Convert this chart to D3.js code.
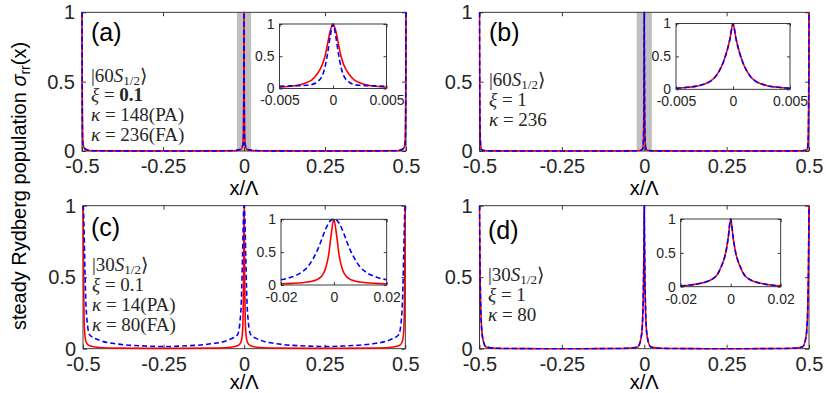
<!DOCTYPE html>
<html>
<head>
<meta charset="utf-8">
<script src="https://cdn.jsdelivr.net/npm/d3@7"></script>
<style>
  body { margin: 0; background: #fff; }
  svg { display: block; }
  .tick text { font-family: "Liberation Sans", Arial, sans-serif; fill: #262626; }
  .note { font-family: "Liberation Serif", "DejaVu Serif", serif; font-size: 19px; fill: #262626; }
</style>
</head>
<body>
<svg width="830" height="393"></svg>
<script>
// x samples for the main panels (one period, peaks at -0.5, 0, 0.5)
const mainX = [-0.5, -0.4995, -0.499, -0.498, -0.497, -0.495, -0.49, -0.48, -0.45, -0.4, -0.3, -0.25, -0.2, -0.1, -0.05, -0.02, -0.01, -0.005, -0.003, -0.002, -0.001, -0.0005,
  0, 0.0005, 0.001, 0.002, 0.003, 0.005, 0.01, 0.02, 0.05, 0.1, 0.2, 0.25, 0.3, 0.4, 0.45, 0.48, 0.49, 0.495, 0.497, 0.498, 0.499, 0.4995, 0.5];

// main panel curves (red = solid, blue = dashed)
const aRed = [1, 0.65, 0.37, 0.13, 0.07, 0.03, 0.01, 0.004, 0.002, 0.001, 0, 0, 0, 0.001, 0.002, 0.004, 0.01, 0.03, 0.07, 0.13, 0.37, 0.65,
  1, 0.65, 0.37, 0.13, 0.07, 0.03, 0.01, 0.004, 0.002, 0.001, 0, 0, 0, 0.001, 0.002, 0.004, 0.01, 0.03, 0.07, 0.13, 0.37, 0.65, 1];
const aBlue = [1, 0.55, 0.2, 0.06, 0.045, 0.035, 0.015, 0.006, 0.002, 0.001, 0, 0, 0, 0.001, 0.002, 0.006, 0.015, 0.035, 0.045, 0.06, 0.2, 0.55,
  1, 0.55, 0.2, 0.06, 0.045, 0.035, 0.015, 0.006, 0.002, 0.001, 0, 0, 0, 0.001, 0.002, 0.006, 0.015, 0.035, 0.045, 0.06, 0.2, 0.55, 1];
const bCurve = [1, 0.6, 0.35, 0.12, 0.055, 0.015, 0.005, 0.002, 0.001, 0, 0, 0, 0, 0, 0.001, 0.002, 0.005, 0.015, 0.055, 0.12, 0.35, 0.6,
  1, 0.6, 0.35, 0.12, 0.055, 0.015, 0.005, 0.002, 0.001, 0, 0, 0, 0, 0, 0.001, 0.002, 0.005, 0.015, 0.055, 0.12, 0.35, 0.6, 1];
const cRed = [1, 0.9, 0.77, 0.45, 0.27, 0.12, 0.045, 0.02, 0.008, 0.004, 0.002, 0.002, 0.002, 0.004, 0.008, 0.02, 0.045, 0.12, 0.27, 0.45, 0.77, 0.9,
  1, 0.9, 0.77, 0.45, 0.27, 0.12, 0.045, 0.02, 0.008, 0.004, 0.002, 0.002, 0.002, 0.004, 0.008, 0.02, 0.045, 0.12, 0.27, 0.45, 0.77, 0.9, 1];
const cBlue = [1, 0.995, 0.99, 0.94, 0.86, 0.65, 0.27, 0.1, 0.06, 0.035, 0.018, 0.015, 0.018, 0.035, 0.06, 0.1, 0.27, 0.65, 0.86, 0.94, 0.99, 0.995,
  1, 0.995, 0.99, 0.94, 0.86, 0.65, 0.27, 0.1, 0.06, 0.035, 0.018, 0.015, 0.018, 0.035, 0.06, 0.1, 0.27, 0.65, 0.86, 0.94, 0.99, 0.995, 1];
const dCurve = [1, 0.85, 0.72, 0.5, 0.37, 0.2, 0.07, 0.012, 0.003, 0.001, 0, 0, 0, 0.001, 0.003, 0.012, 0.07, 0.2, 0.37, 0.5, 0.72, 0.85,
  1, 0.85, 0.72, 0.5, 0.37, 0.2, 0.07, 0.012, 0.003, 0.001, 0, 0, 0, 0.001, 0.003, 0.012, 0.07, 0.2, 0.37, 0.5, 0.72, 0.85, 1];

// inset samples
const insetX1 = [-0.005, -0.004, -0.003, -0.0025, -0.002, -0.0015, -0.001, -0.00075, -0.0005, -0.00025, 0,
  0.00025, 0.0005, 0.00075, 0.001, 0.0015, 0.002, 0.0025, 0.003, 0.004, 0.005];
const insetX2 = [-0.02, -0.016, -0.012, -0.01, -0.008, -0.006, -0.005, -0.004, -0.003, -0.002, -0.001, 0,
  0.001, 0.002, 0.003, 0.004, 0.005, 0.006, 0.008, 0.01, 0.012, 0.016, 0.02];
const insAred = [0.02, 0.035, 0.06, 0.09, 0.13, 0.22, 0.37, 0.5, 0.7, 0.9, 1, 0.9, 0.7, 0.5, 0.37, 0.22, 0.13, 0.09, 0.06, 0.035, 0.02];
const insAblue = [0.035, 0.04, 0.045, 0.05, 0.06, 0.1, 0.2, 0.33, 0.55, 0.82, 1, 0.82, 0.55, 0.33, 0.2, 0.1, 0.06, 0.05, 0.045, 0.04, 0.035];
const insB = [0.015, 0.03, 0.055, 0.08, 0.12, 0.2, 0.35, 0.46, 0.6, 0.78, 1, 0.78, 0.6, 0.46, 0.35, 0.2, 0.12, 0.08, 0.055, 0.03, 0.015];
const insCred = [0.02, 0.025, 0.035, 0.045, 0.06, 0.09, 0.12, 0.17, 0.27, 0.45, 0.77, 1, 0.77, 0.45, 0.27, 0.17, 0.12, 0.09, 0.06, 0.045, 0.035, 0.025, 0.02];
const insCblue = [0.08, 0.12, 0.2, 0.27, 0.39, 0.55, 0.65, 0.76, 0.86, 0.94, 0.99, 1, 0.99, 0.94, 0.86, 0.76, 0.65, 0.55, 0.39, 0.27, 0.2, 0.12, 0.08];
const insD = [0.012, 0.025, 0.05, 0.07, 0.1, 0.15, 0.2, 0.28, 0.37, 0.5, 0.72, 1, 0.72, 0.5, 0.37, 0.28, 0.2, 0.15, 0.1, 0.07, 0.05, 0.025, 0.012];

// ticks
const mainXTicks = [-0.5, -0.25, 0, 0.25, 0.5];
const yTicks = [0, 0.5, 1];
const insTicks1 = [-0.005, 0, 0.005];
const insTicks2 = [-0.02, 0, 0.02];

// annotation text, [text, style] segments per line
const notesA = [[["|60", ""], ["S", "i"], ["1/2", "sub"], ["\u27E9", ""]], [["\u03BE", "i"], [" = ", ""], ["0.1", "b"]], [["\u03BA", "i"], [" = 148(PA)", ""]], [["\u03BA", "i"], [" = 236(FA)", ""]]];
const notesB = [[["|60", ""], ["S", "i"], ["1/2", "sub"], ["\u27E9", ""]], [["\u03BE", "i"], [" = 1", ""]], [["\u03BA", "i"], [" = 236", ""]]];
const notesC = [[["|30", ""], ["S", "i"], ["1/2", "sub"], ["\u27E9", ""]], [["\u03BE", "i"], [" = 0.1", ""]], [["\u03BA", "i"], [" = 14(PA)", ""]], [["\u03BA", "i"], [" = 80(FA)", ""]]];
const notesD = [[["|30", ""], ["S", "i"], ["1/2", "sub"], ["\u27E9", ""]], [["\u03BE", "i"], [" = 1", ""]], [["\u03BA", "i"], [" = 80", ""]]];

const panels = [
  { tag: "(a)", box: [82, 12.3, 406, 151], red: aRed, blue: aBlue, band: 0.022, tagPos: [91, 41], xlab: 195,
    notes: notesA, noteX: 91, noteY: [82, 101, 121, 141],
    inset: { box: [279.5, 24, 386.5, 88.5], x: insetX1, red: insAred, blue: insAblue, ticks: insTicks1 } },
  { tag: "(b)", box: [479.5, 12.3, 809, 151], red: bCurve, blue: bCurve, band: 0.023, tagPos: [489, 41], xlab: 195,
    notes: notesB, noteX: 489, noteY: [86, 106, 126],
    inset: { box: [676, 23.5, 790, 89.3], x: insetX1, red: insB, blue: insB, ticks: insTicks1 } },
  { tag: "(c)", box: [83, 205.7, 405.3, 348.7], red: cRed, blue: cBlue, band: 0, tagPos: [91, 236], xlab: 389,
    notes: notesC, noteX: 92, noteY: [271, 291, 311, 331],
    inset: { box: [281, 219.3, 386.7, 285], x: insetX2, red: insCred, blue: insCblue, ticks: insTicks2 } },
  { tag: "(d)", box: [479.5, 205.7, 809, 348.7], red: dCurve, blue: dCurve, band: 0, tagPos: [488, 239], xlab: 389,
    notes: notesD, noteX: 488, noteY: [281, 301, 321],
    inset: { box: [680.7, 219, 780.7, 286.7], x: insetX2, red: insD, blue: insD, ticks: insTicks2 } }
];

const svg = d3.select("svg");
const axisColor = "#262626";
const fmt = d => String(d);

function drawAxes(g, x, y, x0, y0, x1, y1, xt, fontSize, tickLen, padX, padY) {
  g.append("rect").attr("x", x0).attr("y", y0).attr("width", x1 - x0).attr("height", y1 - y0)
    .attr("fill", "none").attr("stroke", axisColor).attr("stroke-width", 0.9);
  const bottom = g.append("g").attr("transform", `translate(0,${y1})`)
    .call(d3.axisBottom(x).tickValues(xt).tickFormat(fmt).tickSizeInner(-tickLen).tickSizeOuter(0).tickPadding(padX));
  const top = g.append("g").attr("transform", `translate(0,${y0})`)
    .call(d3.axisTop(x).tickValues(xt).tickFormat("").tickSizeInner(-tickLen).tickSizeOuter(0));
  const left = g.append("g").attr("transform", `translate(${x0},0)`)
    .call(d3.axisLeft(y).tickValues(yTicks).tickFormat(fmt).tickSizeInner(-tickLen).tickSizeOuter(0).tickPadding(padY));
  const right = g.append("g").attr("transform", `translate(${x1},0)`)
    .call(d3.axisRight(y).tickValues(yTicks).tickFormat("").tickSizeInner(-tickLen).tickSizeOuter(0));
  [bottom, top, left, right].forEach(a => {
    a.select(".domain").remove();
    a.selectAll("line").attr("stroke", axisColor).attr("stroke-width", 0.9);
    a.selectAll("text").style("font-size", fontSize + "px");
  });
}

function drawCurves(g, x, y, xs, red, blue, clipId, box, width) {
  g.append("clipPath").attr("id", clipId).append("rect")
    .attr("x", box[0] - 1).attr("y", box[1] - 1).attr("width", box[2] - box[0] + 2).attr("height", box[3] - box[1] + 2);
  const line = d3.line().x(d => x(d[0])).y(d => y(d[1])).curve(d3.curveMonotoneX);
  const cg = g.append("g").attr("clip-path", `url(#${clipId})`);
  cg.append("path").attr("d", line(d3.zip(xs, red)))
    .attr("fill", "none").attr("stroke", "#ff0000").attr("stroke-width", width);
  cg.append("path").attr("d", line(d3.zip(xs, blue)))
    .attr("fill", "none").attr("stroke", "#0000ff").attr("stroke-width", width).attr("stroke-dasharray", "5,3");
}

panels.forEach((p, i) => {
  const [x0, y0, x1, y1] = p.box;
  const g = svg.append("g");
  const x = d3.scaleLinear().domain([-0.5, 0.5]).range([x0, x1]);
  const y = d3.scaleLinear().domain([0, 1]).range([y1, y0]);

  if (p.band) {
    g.append("rect").attr("x", x(-p.band)).attr("y", y0).attr("width", x(p.band) - x(-p.band)).attr("height", y1 - y0)
      .attr("fill", "#bfbfbf");
  }
  drawAxes(g, x, y, x0, y0, x1, y1, mainXTicks, 20, 4, 8, 7);
  drawCurves(g, x, y, mainX, p.red, p.blue, "clip" + i, p.box, 1.6);

  // x label
  g.append("text").attr("x", (x0 + x1) / 2).attr("y", p.xlab)
    .attr("text-anchor", "middle").style("font-family", "Liberation Sans, Arial, sans-serif")
    .style("font-size", "20px").attr("fill", "#000").text("x/\u039B");

  // panel tag
  g.append("text").attr("x", p.tagPos[0]).attr("y", p.tagPos[1])
    .style("font-family", "Liberation Sans, Arial, sans-serif").style("font-size", "25px").attr("fill", "#000")
    .text(p.tag);

  // annotations
  p.notes.forEach((segs, j) => {
    const t = g.append("text").attr("class", "note").attr("x", p.noteX).attr("y", p.noteY[j]);
    segs.forEach(([s, st]) => {
      const ts = t.append("tspan").text(s);
      if (st === "i") ts.style("font-style", "italic");
      if (st === "b") ts.style("font-weight", "bold");
      if (st === "sub") ts.attr("baseline-shift", "-25%").style("font-size", "13px").style("font-style", "normal");
    });
  });

  // inset
  const ins = p.inset;
  const [ix0, iy0, ix1, iy1] = ins.box;
  const lim = ins.ticks[2];
  const ix = d3.scaleLinear().domain([-lim, lim]).range([ix0, ix1]);
  const iy = d3.scaleLinear().domain([0, 1]).range([iy1, iy0]);
  g.append("rect").attr("x", ix0).attr("y", iy0).attr("width", ix1 - ix0).attr("height", iy1 - iy0).attr("fill", "#fff");
  drawCurves(g, ix, iy, ins.x, ins.red, ins.blue, "iclip" + i, ins.box, 1.6);
  drawAxes(g, ix, iy, ix0, iy0, ix1, iy1, ins.ticks, 14, 3, 7, 5);
});

// shared y label
const yl = svg.append("text")
  .attr("transform", "translate(26,186) rotate(-90)")
  .attr("text-anchor", "middle")
  .style("font-family", "Liberation Sans, Arial, sans-serif").style("font-size", "20px").attr("fill", "#000");
yl.append("tspan").text("steady Rydberg population ");
yl.append("tspan").text("\u03C3").style("font-style", "italic");
yl.append("tspan").text("rr").attr("baseline-shift", "-30%").style("font-size", "14px");
yl.append("tspan").text("(x)");
</script>
</body>
</html>
